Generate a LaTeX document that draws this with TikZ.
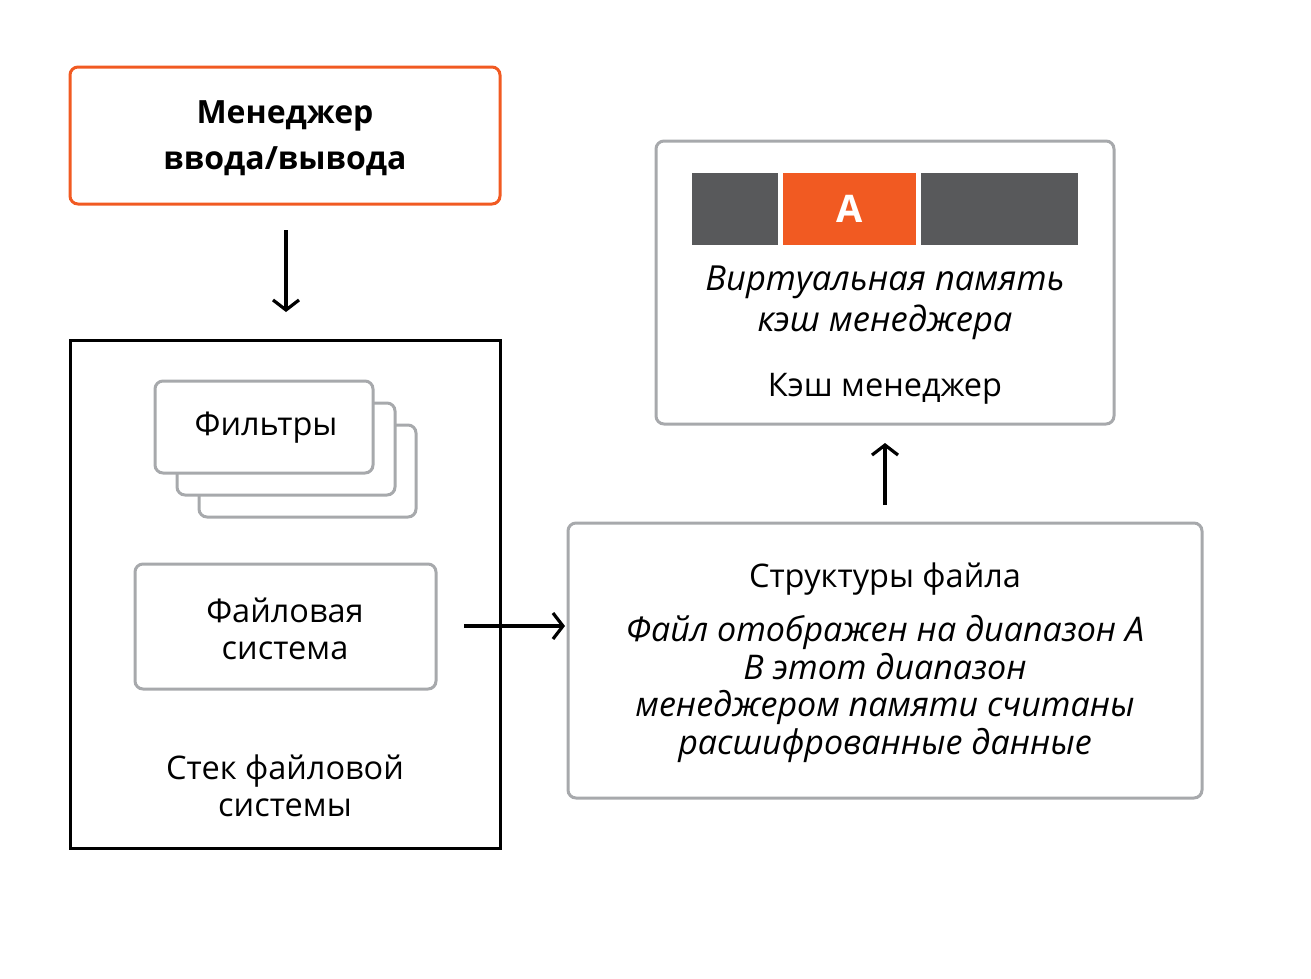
\documentclass[tikz,border=0pt]{standalone}
\usepackage{fontspec}
\setmainfont{Open Sans}
\usetikzlibrary{arrows.meta}
\definecolor{orng}{HTML}{F15A22}
\definecolor{gry}{HTML}{A7A9AC}
\definecolor{dgry}{HTML}{58595B}
\tikzset{
  gbox/.style={draw=gry, line width=3pt, rounded corners=8pt, fill=white},
  obox/.style={draw=orng, line width=3pt, rounded corners=8pt},
  kbox/.style={draw=black, line width=3pt},
  arr/.style={line width=3.2pt, -{Straight Barb[length=10pt,width=26pt,line width=3.2pt]}},
  txt/.style={align=center, inner sep=0pt, font=\fontsize{32.5}{37.5}\selectfont},
  itxt/.style={align=center, inner sep=0pt, font=\fontsize{34}{37.5}\selectfont\itshape},
  btxt/.style={align=center, inner sep=0pt, font=\fontsize{32}{46}\selectfont\bfseries},
}
\begin{document}
\begin{tikzpicture}[x=1pt, y=-1pt]
\useasboundingbox (0,0) rectangle (1311,978);
% I/O manager
\draw[obox] (70,67) rectangle (500,204);
\node[btxt] (io) at (285,138) {Менеджер\\ввода/вывода};
\coordinate (ioB) at (286,230);
\coordinate (stT) at (286,312);
\draw[arr] (ioB) -- (stT);
% FS stack
\draw[kbox] (70,340) rectangle (500,848);
\draw[gbox] (199,425) rectangle (416,517);
\draw[gbox] (177,403) rectangle (395,495);
\draw[gbox] (155,381) rectangle (373,473);
\node[txt] (flt) at (266,428) {Фильтры};
\draw[gbox] (135,564) rectangle (436,689);
\node[txt] (fs) at (285,629) {Файловая\\система};
\node[txt] (stk) at (285,786) {Стек файловой\\системы};
\coordinate (fsR) at (464,626);
\coordinate (sfL) at (565,626);
\draw[arr] (fsR) -- (sfL);
% File structures
\draw[gbox] (568,523) rectangle (1202,798);
\node[txt] (sf) at (885,579) {Структуры файла};
\node[itxt] (sfi) at (885,689) {Файл отображен на диапазон А\\В этот диапазон\\менеджером памяти считаны\\расшифрованные данные};
\coordinate (sfT) at (885,505);
\coordinate (cmB) at (885,443);
\draw[arr] (sfT) -- (cmB);
% Cache manager
\draw[gbox] (656,141) rectangle (1114,424);
\fill[dgry] (692,173) rectangle (778,245);
\fill[orng] (783,173) rectangle (916,245);
\fill[dgry] (921,173) rectangle (1078,245);
\node[font=\fontsize{38}{40}\selectfont\bfseries, text=white, inner sep=0pt] (A) at (850,209) {A};
\node[itxt, font=\fontsize{34.5}{41}\selectfont\itshape] (vm) at (885,303) {Виртуальная память\\кэш менеджера};
\node[txt] (cm) at (885,389) {Кэш менеджер};
\end{tikzpicture}
\end{document}
